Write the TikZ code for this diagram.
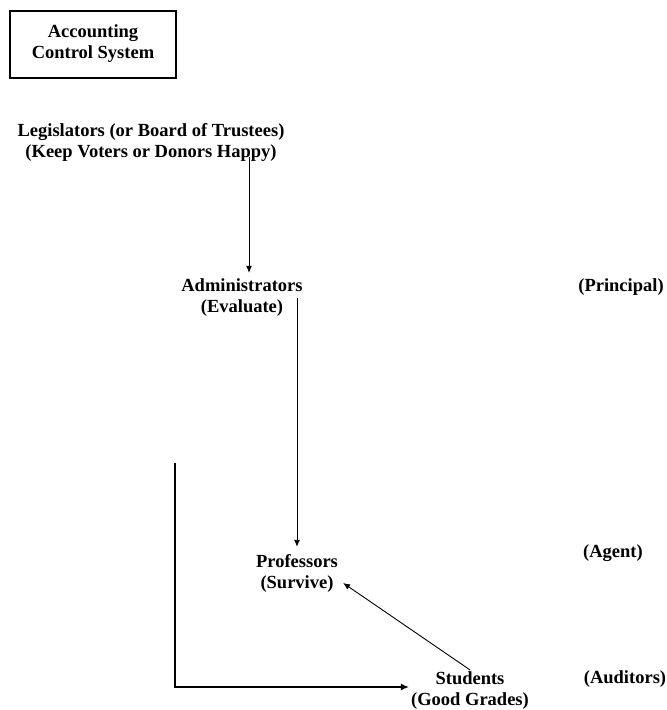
\documentclass[tikz,border=0pt]{standalone}
\usepackage{fontspec}
\setmainfont{Liberation Serif}
\usepackage{tikz}
\usetikzlibrary{positioning,arrows.meta}

\begin{document}
\begin{tikzpicture}[x=1pt, y=-1pt,
    lbl/.style={font=\fontsize{18.5}{21}\selectfont\bfseries, align=center, inner sep=2pt},
    arr/.style={-{Latex[length=7pt,width=6pt]}, line width=0.9pt},
    thickarr/.style={-{Latex[length=8pt,width=7pt]}, line width=2.2pt}]
  \useasboundingbox (0,0) rectangle (667,710);

  %% Title box
  \node[lbl, draw, line width=2pt, minimum width=166pt, minimum height=67pt]
    (acs) at (93,44) {Accounting\\Control System};

  %% Hierarchy
  \node[lbl] (leg) at (151,142) {Legislators (or Board of Trustees)\\(Keep Voters or Donors Happy)};
  \node[lbl] (admin) at (242,298) {Administrators\\(Evaluate)};
  \node[lbl] (prof) at (297,573) {Professors\\(Survive)};
  \node[lbl] (stud) at (470,691) {Students\\(Good Grades)};

  %% Roles
  \node[lbl] (principal) at (621,287) {(Principal)};
  \node[lbl] (agent) at (613,553) {(Agent)};
  \node[lbl] (auditors) at (625,679) {(Auditors)};

  %% Connectors
  \draw[arr, shorten <=-6pt, shorten >=4pt] ([xshift=7pt]admin.north |- leg.south) -- ([xshift=7pt]admin.north);
  \draw[arr, shorten >=5pt] (prof.north |- admin.center) -- (prof.north);
  \draw[arr] (stud.north) -- ([xshift=3pt,yshift=-10pt]prof.east);

  \coordinate (lcorner) at (175,463);
  \draw[thickarr] (lcorner) |- ([yshift=4pt]stud.west);
\end{tikzpicture}
\end{document}
